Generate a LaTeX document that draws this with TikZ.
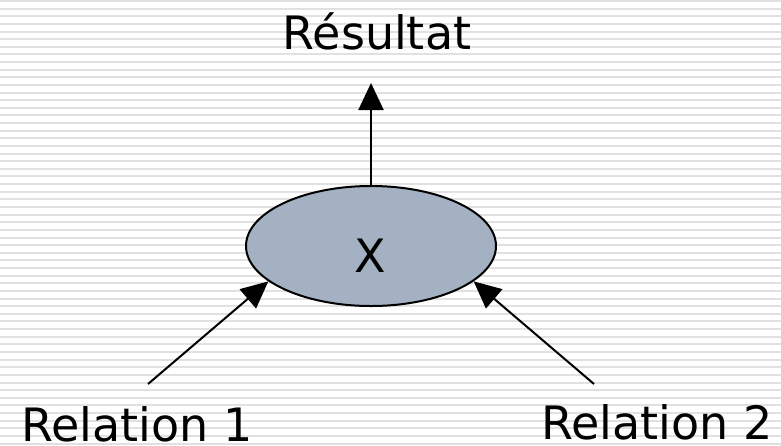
\documentclass[tikz,border=0pt]{standalone}
\usepackage{fontspec}
\setmainfont{DejaVu Sans}
\usetikzlibrary{arrows.meta,shapes.geometric}
\definecolor{opfill}{RGB}{163,177,194}
\definecolor{stripegray}{RGB}{225,225,225}
\begin{document}
\begin{tikzpicture}[x=1pt,y=-1pt,
    stripe/.style={draw=stripegray,line width=2pt},
    big/.style={font=\fontsize{46}{52}\selectfont,inner sep=0pt,anchor=base},
    link/.style={line width=2pt,-{Triangle[length=27pt,width=25pt]}}]
    \useasboundingbox (0,0) rectangle (781,445);
    \foreach \i in {0,...,58} {
      \pgfmathsetmacro{\y}{1+\i*7.63}
      \draw[stripe] (0,\y) -- (781,\y);
    }
    \node[ellipse,draw,line width=2pt,fill=opfill,minimum width=250pt,minimum height=120pt] (op) at (371,246) {};
    \node[big] (optext) at (370,272) {X};
    \node[big] (res) at (377,49) {Résultat};
    \node[big] (rel1) at (137,441) {Relation 1};
    \node[big] (rel2) at (657,439) {Relation 2};
    \coordinate (restip) at (371,83);
    \coordinate (rel1end) at (148,384);
    \coordinate (rel2end) at (594,384);
    \draw[link] (op.north) -- (restip);
    \draw[link] (rel1end) -- (op.199);
    \draw[link] (rel2end) -- (op.341);
  \end{tikzpicture}
\end{document}
